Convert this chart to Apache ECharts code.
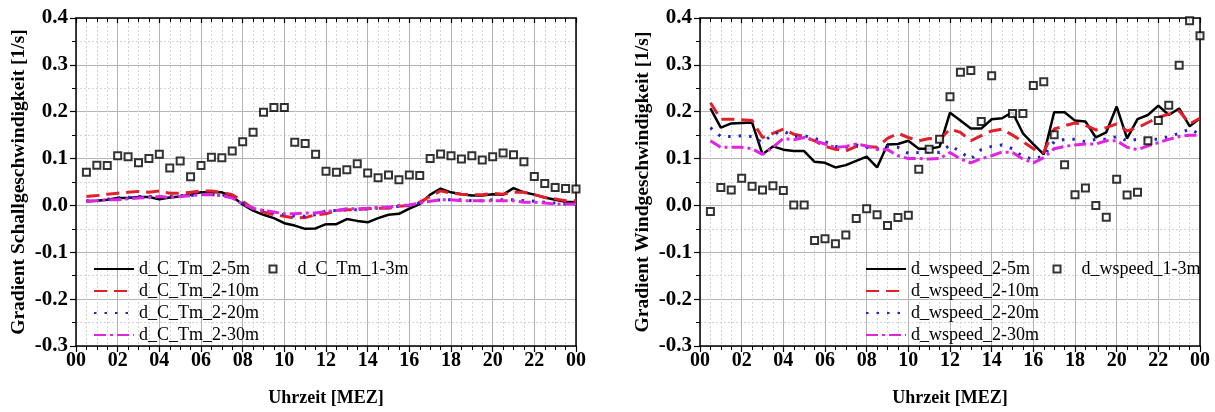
<!DOCTYPE html>
<html>
<head>
<meta charset="utf-8">
<script src="https://cdn.jsdelivr.net/npm/echarts@6/dist/echarts.min.js"></script>
<style>
html,body{margin:0;padding:0;background:#fff;}
#chart{width:1215px;height:412px;}
</style>
</head>
<body>
<div id="chart"></div>
<script>
// ---- Data (time of day in hours, 30-min steps) ----
const hours = [0.5,1,1.5,2,2.5,3,3.5,4,4.5,5,5.5,6,6.5,7,7.5,8,8.5,9,9.5,10,10.5,11,11.5,
  12,12.5,13,13.5,14,14.5,15,15.5,16,16.5,17,17.5,18,18.5,19,19.5,20,20.5,21,21.5,22,22.5,23,23.5,24];

const xTickLabels = ["00","02","04","06","08","10","12","14","16","18","20","22","00"];

// Left chart: Gradient Schallgeschwindigkeit
const cTm_2_5m  = [0.009,0.010,0.012,0.016,0.016,0.018,0.018,0.013,0.017,0.019,0.023,0.028,0.028,0.028,0.019,0.002,-0.011,-0.020,-0.027,-0.038,-0.043,-0.050,-0.049,
  -0.040,-0.040,-0.029,-0.033,-0.036,-0.027,-0.020,-0.018,-0.007,0.003,0.023,0.036,0.028,0.024,0.021,0.021,0.024,0.023,0.037,0.028,0.023,0.017,0.012,0.008,0.007];
const cTm_2_10m = [0.019,0.021,0.024,0.026,0.028,0.030,0.028,0.031,0.026,0.026,0.028,0.031,0.031,0.028,0.023,0.009,-0.007,-0.014,-0.020,-0.023,-0.027,-0.026,-0.020,
  -0.018,-0.011,-0.009,-0.009,-0.007,-0.006,-0.006,-0.002,0.000,0.007,0.019,0.031,0.026,0.024,0.023,0.023,0.026,0.024,0.028,0.028,0.023,0.017,0.014,0.010,0.010];
const cTm_2_20m = [0.010,0.010,0.013,0.016,0.017,0.019,0.019,0.019,0.019,0.021,0.021,0.024,0.023,0.023,0.017,0.005,-0.006,-0.011,-0.016,-0.020,-0.023,-0.023,-0.020,
  -0.011,-0.011,-0.009,-0.009,-0.007,-0.006,-0.004,-0.002,0.000,0.005,0.009,0.012,0.012,0.012,0.010,0.010,0.012,0.012,0.012,0.010,0.009,0.007,0.005,0.003,0.003];
const cTm_2_30m = [0.009,0.010,0.012,0.012,0.014,0.016,0.017,0.019,0.017,0.019,0.021,0.023,0.023,0.021,0.016,0.003,-0.006,-0.011,-0.014,-0.018,-0.018,-0.016,-0.016,
  -0.013,-0.011,-0.007,-0.007,-0.006,-0.004,-0.004,0.000,0.001,0.005,0.009,0.012,0.012,0.010,0.010,0.010,0.010,0.010,0.010,0.007,0.007,0.005,0.003,0.003,0.003];
const cTm_1_3m  = [0.071,0.086,0.085,0.106,0.104,0.091,0.100,0.109,0.080,0.095,0.061,0.085,0.103,0.102,0.116,0.136,0.156,0.199,0.209,0.209,0.135,0.132,0.109,
  0.073,0.071,0.076,0.089,0.069,0.059,0.065,0.055,0.065,0.064,0.100,0.110,0.106,0.099,0.106,0.097,0.104,0.112,0.108,0.093,0.062,0.047,0.038,0.036,0.035];

// Right chart: Gradient Windgeschwindigkeit
const ws_2_5m  = [0.207,0.166,0.175,0.176,0.177,0.109,0.126,0.119,0.116,0.116,0.093,0.091,0.081,0.086,0.095,0.104,0.081,0.130,0.131,0.138,0.121,0.121,0.125,
  0.198,0.181,0.164,0.164,0.184,0.186,0.199,0.154,0.131,0.109,0.199,0.199,0.181,0.179,0.145,0.156,0.211,0.143,0.184,0.193,0.213,0.193,0.207,0.169,0.186];
const ws_2_10m = [0.219,0.184,0.184,0.183,0.181,0.145,0.154,0.163,0.152,0.147,0.138,0.126,0.120,0.116,0.126,0.126,0.124,0.143,0.154,0.145,0.138,0.143,0.140,
  0.163,0.156,0.138,0.149,0.159,0.163,0.150,0.136,0.121,0.113,0.163,0.170,0.176,0.171,0.161,0.166,0.174,0.159,0.166,0.177,0.188,0.195,0.202,0.174,0.186];
const ws_2_20m = [0.166,0.147,0.147,0.149,0.147,0.134,0.152,0.159,0.147,0.149,0.143,0.136,0.126,0.124,0.129,0.124,0.120,0.126,0.124,0.111,0.113,0.114,0.113,
  0.129,0.114,0.099,0.119,0.126,0.129,0.121,0.104,0.099,0.106,0.136,0.141,0.141,0.136,0.141,0.141,0.147,0.138,0.141,0.141,0.141,0.147,0.154,0.163,0.152];
const ws_2_30m = [0.138,0.124,0.124,0.124,0.121,0.109,0.124,0.143,0.140,0.145,0.138,0.131,0.124,0.126,0.131,0.127,0.120,0.119,0.106,0.100,0.100,0.099,0.100,
  0.113,0.099,0.091,0.100,0.106,0.114,0.113,0.099,0.091,0.102,0.121,0.126,0.129,0.131,0.131,0.138,0.138,0.124,0.119,0.127,0.134,0.141,0.147,0.150,0.150];
const ws_1_3m  = [-0.013,0.038,0.033,0.058,0.041,0.033,0.042,0.032,0.001,0.001,-0.075,-0.071,-0.082,-0.063,-0.028,-0.007,-0.020,-0.043,-0.026,-0.021,0.077,0.120,0.141,
  0.232,0.284,0.288,0.179,0.277,null,0.196,0.196,0.256,0.264,0.151,0.087,0.023,0.037,0.000,-0.025,0.056,0.022,0.028,0.138,0.181,0.214,0.299,0.394,0.362];

// ---- Chart ----
const FONT = '"Liberation Serif","Times New Roman",serif';
const pair = vals => hours.map((h, i) => [h, vals[i]]);

const grids = [
  {left: 76, top: 18, width: 500, height: 328},
  {left: 700, top: 18, width: 500, height: 328}
];

function xAxes(gi){
  return [{
    type: 'value', gridIndex: gi, min: 0, max: 24, interval: 2, position: 'bottom',
    name: 'Uhrzeit [MEZ]', nameLocation: 'middle', nameGap: 43,
    nameTextStyle: {fontFamily: FONT, fontWeight: 'bold', fontSize: 18, color: '#000'},
    axisLine: {show: true, onZero: false, lineStyle: {color: '#000', width: 1.5}},
    axisTick: {show: true, inside: false, length: 6, lineStyle: {color: '#000', width: 1.2}},
    minorTick: {show: true, splitNumber: 4, length: 4, lineStyle: {color: '#000', width: 1}},
    axisLabel: {fontFamily: FONT, fontWeight: 'bold', fontSize: 20, color: '#000', margin: 5,
      formatter: v => xTickLabels[Math.round(v / 2)]},
    splitLine: {show: true, lineStyle: {color: '#b4b4b4', width: 1}},
    minorSplitLine: {show: true, lineStyle: {color: '#d6d6d6', width: 1, type: [2, 2]}}
  }, {
    type: 'value', gridIndex: gi, min: 0, max: 24, interval: 2, position: 'top',
    axisLine: {show: true, onZero: false, lineStyle: {color: '#000', width: 1.5}},
    axisTick: {show: true, inside: true, length: 5, lineStyle: {color: '#000', width: 1.2}},
    minorTick: {show: true, splitNumber: 4, length: 4, lineStyle: {color: '#000', width: 1}},
    axisLabel: {show: false}, splitLine: {show: false}
  }];
}
function yAxes(gi, title){
  return [{
    type: 'value', gridIndex: gi, min: -0.3, max: 0.4, interval: 0.1, position: 'left',
    name: title, nameLocation: 'middle', nameGap: 47, nameRotate: 90,
    nameTextStyle: {fontFamily: FONT, fontWeight: 'bold', fontSize: 19.5, color: '#000'},
    axisLine: {show: true, onZero: false, lineStyle: {color: '#000', width: 1.5}},
    axisTick: {show: true, inside: false, length: 6, lineStyle: {color: '#000', width: 1.2}},
    minorTick: {show: true, splitNumber: 2, length: 4, lineStyle: {color: '#000', width: 1}},
    axisLabel: {fontFamily: FONT, fontWeight: 'bold', fontSize: 21, color: '#000', margin: 8,
      formatter: v => v.toFixed(1)},
    splitLine: {show: true, lineStyle: {color: '#b4b4b4', width: 1}},
    minorSplitLine: {show: true, lineStyle: {color: '#d6d6d6', width: 1, type: [2, 2]}}
  }, {
    type: 'value', gridIndex: gi, min: -0.3, max: 0.4, interval: 0.1, position: 'right',
    axisLine: {show: true, onZero: false, lineStyle: {color: '#000', width: 1.5}},
    axisTick: {show: false}, axisLabel: {show: false}, splitLine: {show: false}
  }];
}

const styles = [
  {color: '#000000', width: 2.5, type: 'solid'},
  {color: '#e3202a', width: 3, type: [13, 7]},
  {color: '#2424c8', width: 3, type: [2.5, 8]},
  {color: '#e224e2', width: 3, type: [12, 4, 3, 4]}
];

function lineSeries(name, vals, gi, s){
  return {
    name, type: 'line', xAxisIndex: gi * 2, yAxisIndex: gi * 2, data: pair(vals),
    symbol: 'none', showSymbol: false, smooth: false,
    lineStyle: {color: s.color, width: s.width, type: s.type},
    itemStyle: {color: s.color}, z: 3
  };
}
function squareSeries(name, vals, gi){
  return {
    name, type: 'scatter', xAxisIndex: gi * 2, yAxisIndex: gi * 2, data: pair(vals),
    symbol: 'rect', symbolSize: 7,
    itemStyle: {color: '#ffffff', borderColor: '#000', borderWidth: 2}, z: 4
  };
}

const leftNames = ['d_C_Tm_2-5m','d_C_Tm_2-10m','d_C_Tm_2-20m','d_C_Tm_2-30m','d_C_Tm_1-3m'];
const rightNames = ['d_wspeed_2-5m','d_wspeed_2-10m','d_wspeed_2-20m','d_wspeed_2-30m','d_wspeed_1-3m'];

const series = [
  lineSeries(leftNames[0], cTm_2_5m, 0, styles[0]),
  lineSeries(leftNames[1], cTm_2_10m, 0, styles[1]),
  lineSeries(leftNames[2], cTm_2_20m, 0, styles[2]),
  lineSeries(leftNames[3], cTm_2_30m, 0, styles[3]),
  squareSeries(leftNames[4], cTm_1_3m, 0),
  lineSeries(rightNames[0], ws_2_5m, 1, styles[0]),
  lineSeries(rightNames[1], ws_2_10m, 1, styles[1]),
  lineSeries(rightNames[2], ws_2_20m, 1, styles[2]),
  lineSeries(rightNames[3], ws_2_30m, 1, styles[3]),
  squareSeries(rightNames[4], ws_1_3m, 1)
];

const legTxt = {fontFamily: FONT, fontSize: 18, color: '#000', lineHeight: 20};
function lineLegend(names, left){
  return {
    orient: 'vertical', left, top: 254, itemWidth: 40, itemHeight: 12, itemGap: 2,
    data: names.slice(0, 4), textStyle: legTxt, selectedMode: false,
    itemStyle: {opacity: 0}
  };
}
function squareLegend(name, left){
  return {
    orient: 'vertical', left, top: 254, itemWidth: 7, itemHeight: 7,
    data: [{name, icon: 'rect'}], textStyle: Object.assign({}, legTxt, {padding: [0, 0, 0, 16]}),
    itemStyle: {color: '#fff', borderColor: '#000', borderWidth: 2},
    selectedMode: false
  };
}

const option = {
  backgroundColor: '#fff',
  animation: false,
  textStyle: {fontFamily: FONT},
  grid: grids,
  xAxis: [...xAxes(0), ...xAxes(1)],
  yAxis: [...yAxes(0, 'Gradient Schallgeschwindigkeit [1/s]'), ...yAxes(1, 'Gradient Windgeschwindigkeit [1/s]')],
  legend: [
    lineLegend(leftNames, 88),
    squareLegend(leftNames[4], 263.5),
    lineLegend(rightNames, 860),
    squareLegend(rightNames[4], 1047.5)
  ],
  series
};

const chart = echarts.init(document.getElementById('chart'), null, {renderer: 'canvas'});
chart.setOption(option);
</script>
</body>
</html>
